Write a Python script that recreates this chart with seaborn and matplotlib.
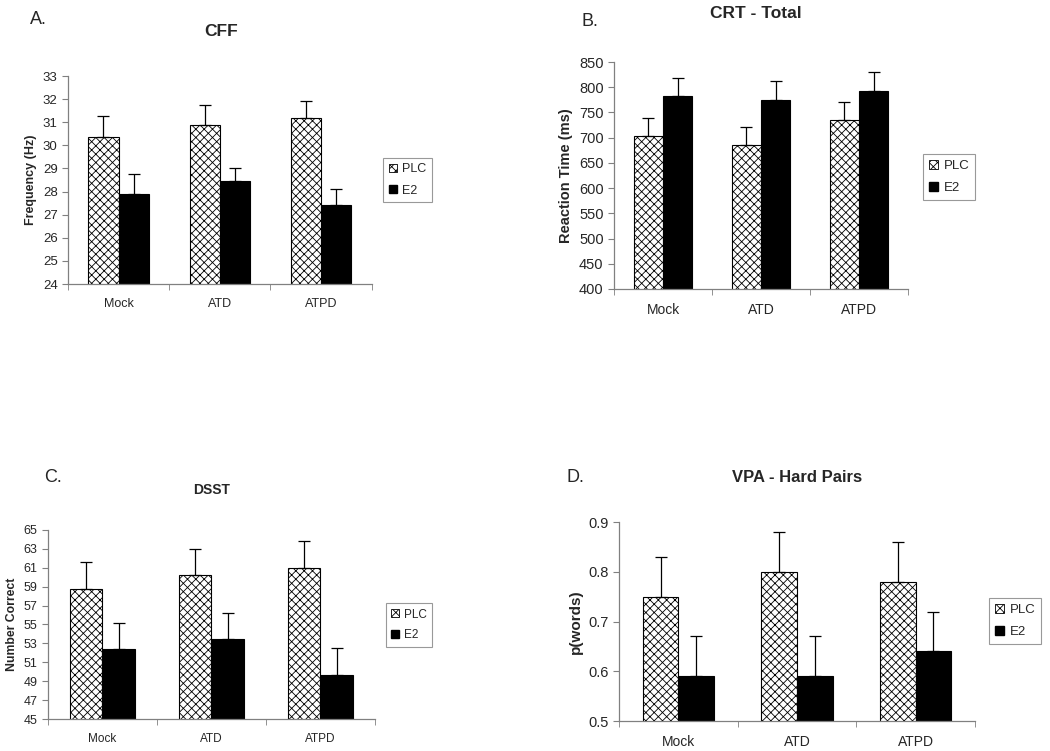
import pandas as pd
import numpy as np
import seaborn as sns
import matplotlib.pyplot as plt
from matplotlib.patches import Patch

sns.set_style("white")
plt.rcParams['font.family'] = ['Liberation Sans', 'DejaVu Sans']
plt.rcParams['hatch.linewidth'] = 0.6

# shared categories
conditions = ['Mock', 'ATD', 'ATPD']
groups = ['PLC', 'E2']

# A. CFF
cff_plc = [30.37, 30.9, 31.2]
cff_e2 = [27.9, 28.45, 27.4]
cff_plc_err = [0.91, 0.85, 0.7]
cff_e2_err = [0.85, 0.55, 0.7]

# B. CRT - Total
crt_plc = [703, 685, 735]
crt_e2 = [782, 774, 792]
crt_plc_err = [37, 37, 36]
crt_e2_err = [36, 39, 38]

# C. DSST
dsst_plc = [58.8, 60.2, 61.0]
dsst_e2 = [52.4, 53.5, 49.7]
dsst_plc_err = [2.8, 2.8, 2.8]
dsst_e2_err = [2.8, 2.7, 2.8]

# D. VPA - Hard Pairs
vpa_plc = [0.75, 0.80, 0.78]
vpa_e2 = [0.59, 0.59, 0.64]
vpa_plc_err = [0.08, 0.08, 0.08]
vpa_e2_err = [0.08, 0.08, 0.08]

axis_grey = '#808080'


def draw_panel(fig, rect, plc, e2, plc_err, e2_err, ylim, yticks, ylabel,
               title, title_xy, letter, letter_xy, legend_xy, fs, title_fs, ylabel_fs, leg_fs):
    ax = fig.add_axes(rect)
    df = pd.DataFrame({
        'Condition': conditions * 2,
        'Group': ['PLC'] * 3 + ['E2'] * 3,
        'Value': plc + e2,
    })
    sns.barplot(data=df, x='Condition', y='Value', hue='Group', order=conditions,
                hue_order=groups, palette=['white', 'black'], width=0.6,
                edgecolor='black', linewidth=0.8, errorbar=None, legend=False, ax=ax)
    for bar in ax.containers[0]:
        bar.set_hatch('xxxx')
    # one-sided error bars on top of each bar
    for cont, errs in zip(ax.containers, [plc_err, e2_err]):
        xs = [b.get_x() + b.get_width() / 2 for b in cont]
        hs = [b.get_height() for b in cont]
        ax.errorbar(xs, hs, yerr=[np.zeros(len(errs)), errs], fmt='none',
                    ecolor='black', elinewidth=0.9, capsize=4, capthick=0.9, zorder=1)
    ax.set_xlim(-0.5, 2.5)
    ax.set_ylim(*ylim)
    ax.set_yticks(yticks)
    ax.set_xlabel('')
    ax.set_ylabel(ylabel, fontsize=ylabel_fs, fontweight='bold', labelpad=4)
    ax.tick_params(axis='y', labelsize=fs + 0.5, length=4, direction='out', color=axis_grey, left=True)
    ax.tick_params(axis='x', labelsize=fs, length=0, pad=10)
    ax.set_xticks([-0.5, 0.5, 1.5, 2.5], minor=True)
    ax.tick_params(axis='x', which='minor', length=4, direction='out', color=axis_grey, bottom=True)
    for s in ['top', 'right']:
        ax.spines[s].set_visible(False)
    for s in ['left', 'bottom']:
        ax.spines[s].set_color(axis_grey)
        ax.spines[s].set_linewidth(0.9)
    fig.text(title_xy[0], title_xy[1], title, fontsize=title_fs, fontweight='bold',
             ha='center', va='center')
    fig.text(letter_xy[0], letter_xy[1], letter, fontsize=13, ha='center', va='center')
    handles = [Patch(facecolor='white', edgecolor='black', hatch='xxxx', linewidth=0.6, label='PLC'),
               Patch(facecolor='black', edgecolor='black', label='E2')]
    leg = ax.legend(handles=handles, loc='center left', bbox_to_anchor=legend_xy,
                    bbox_transform=fig.transFigure, fontsize=leg_fs, frameon=True,
                    fancybox=False, handlelength=0.65, handleheight=0.65, handletextpad=0.45,
                    borderpad=0.45, labelspacing=0.75, borderaxespad=0)
    leg.get_frame().set_edgecolor(axis_grey)
    leg.get_frame().set_linewidth(0.8)
    return ax


fig = plt.figure(figsize=(10.5, 7.51), dpi=100)

draw_panel(fig, [0.0648, 0.6218, 0.2892, 0.277], cff_plc, cff_e2, cff_plc_err, cff_e2_err,
           (24, 33), np.arange(24, 34, 1), 'Frequency (Hz)',
           'CFF', (221 / 1050, 1 - 32 / 751), 'A.', (38 / 1050, 1 - 19 / 751),
           (383 / 1050, 1 - 180 / 751), 9, 12.5, 9, 9)

draw_panel(fig, [0.5848, 0.6152, 0.28, 0.3022], crt_plc, crt_e2, crt_plc_err, crt_e2_err,
           (400, 850), np.arange(400, 851, 50), 'Reaction Time (ms)',
           'CRT - Total', (756 / 1050, 1 - 14 / 751), 'B.', (590 / 1050, 1 - 22 / 751),
           (923 / 1050, 1 - 177 / 751), 10, 12.5, 10.5, 9.5)

draw_panel(fig, [0.0457, 0.0426, 0.3114, 0.2517], dsst_plc, dsst_e2, dsst_plc_err, dsst_e2_err,
           (45, 65), np.arange(45, 66, 2), 'Number Correct',
           'DSST', (212 / 1050, 1 - 490 / 751), 'C.', (53 / 1050, 1 - 477 / 751),
           (386 / 1050, 1 - 625 / 751), 8.5, 10, 8.8, 8.5)

draw_panel(fig, [0.5895, 0.0399, 0.3391, 0.265], vpa_plc, vpa_e2, vpa_plc_err, vpa_e2_err,
           (0.5, 0.9), [0.5, 0.6, 0.7, 0.8, 0.9], 'p(words)',
           'VPA - Hard Pairs', (797 / 1050, 1 - 477 / 751), 'D.', (575 / 1050, 1 - 477 / 751),
           (989 / 1050, 1 - 621 / 751), 10, 12, 11, 9.5)

plt.savefig('out.png', dpi=100)
plt.close()
